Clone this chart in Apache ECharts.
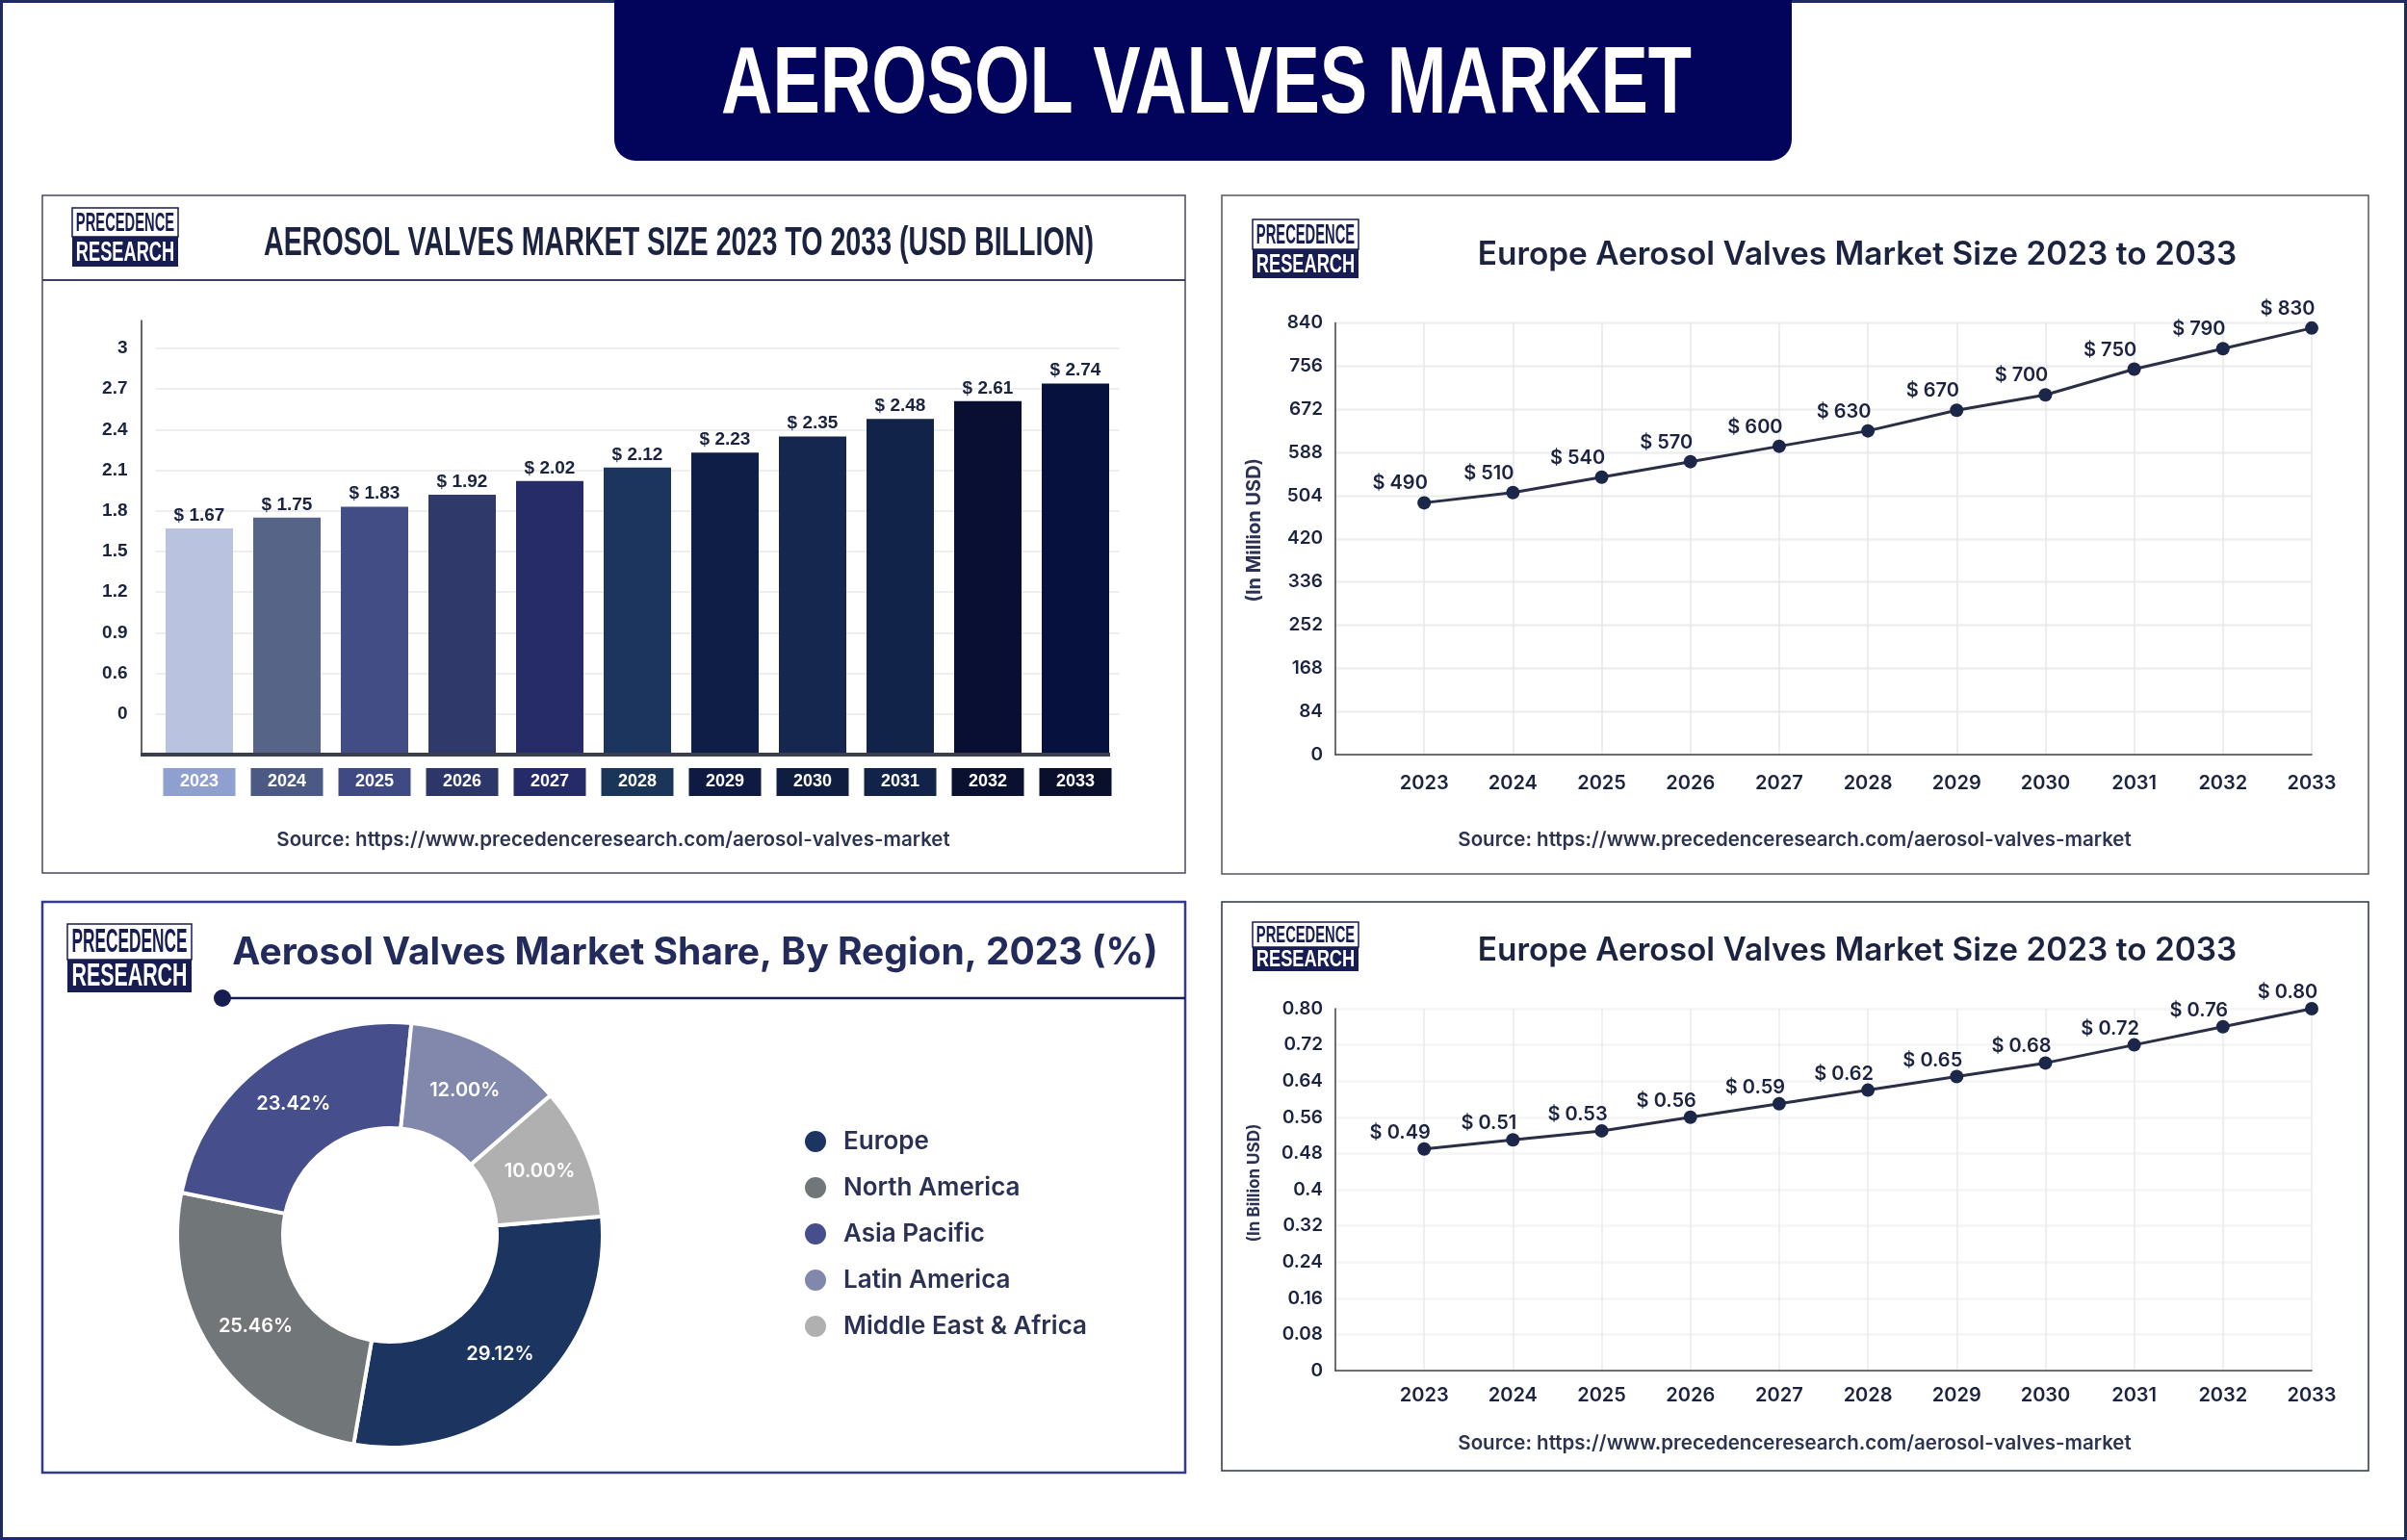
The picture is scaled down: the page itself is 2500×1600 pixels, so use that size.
<!DOCTYPE html>
<html>
<head>
<meta charset="utf-8">
<style>html,body{margin:0;padding:0;background:#fff}#c{width:2500px;height:1600px}</style>
<script src="https://cdn.jsdelivr.net/npm/echarts@6/dist/echarts.min.js"></script>
</head>
<body>
<div id="c"></div>
<script>
const years = [2023,2024,2025,2026,2027,2028,2029,2030,2031,2032,2033];
const marketSize = [1.67,1.75,1.83,1.92,2.02,2.12,2.23,2.35,2.48,2.61,2.74];
const barYTicks = ['','0','0.6','0.9','1.2','1.5','1.8','2.1','2.4','2.7','3',''];
const barColors = ['#b9c2de','#566487','#434d85','#2f3a6b','#262c68','#1b355f','#0f1e47','#15274e','#12234a','#080f33','#06113e'];
const boxColors = ['#8f9fd0','#4a5a85','#3f4a85','#2c3668','#252b68','#1b3558','#0f1a42','#0f1e40','#12234a','#0a1030','#0a0f2c'];
const europeMillion = [490,510,540,570,600,630,670,700,750,790,830];
const europeBillion = [0.49,0.51,0.53,0.56,0.59,0.62,0.65,0.68,0.72,0.76,0.80];
const billionTicks = ['0','0.08','0.16','0.24','0.32','0.4','0.48','0.56','0.64','0.72','0.80'];
const regions = ['Europe','North America','Asia Pacific','Latin America','Middle East & Africa'];
const regionShare = [29.12,25.46,23.42,12.00,10.00];
const regionColors = ['#1b3460','#717779','#464f8b','#8288ab','#b0b0b0'];

const NARROW = '"Liberation Sans",Arial,sans-serif';
const SANS = 'Inter,"Noto Sans",sans-serif';
const INK = '#1b2340';
const NAVY = '#171d52';
const SOURCE = 'Source: https://www.precedenceresearch.com/aerosol-valves-market';
const measure = document.createElement('canvas').getContext('2d');

function condensed(text,cx,cy,font,targetWidth,fill,z){
  measure.font = font;
  const s = targetWidth / measure.measureText(text).width;
  return {type:'text',z:z,x:cx,y:cy,scaleX:s,style:{text:text,align:'center',verticalAlign:'middle',fill:fill,font:font}};
}
function panel(x,y,w,h,color,lw){
  return {type:'rect',z:0,shape:{x:x,y:y,width:w,height:h},style:{fill:'#fff',stroke:color,lineWidth:lw}};
}
function logo(x,y,w,h,split){
  const f1 = 'bold '+(split*0.95)+'px '+NARROW, f2 = 'bold '+((h-split)*0.95)+'px '+NARROW;
  return [
    {type:'rect',z:1,shape:{x:x,y:y,width:w,height:split},style:{fill:'#fff',stroke:NAVY,lineWidth:1.5}},
    {type:'rect',z:1,shape:{x:x,y:y+split,width:w,height:h-split},style:{fill:NAVY}},
    condensed('PRECEDENCE',x+w/2,y+split/2+1,f1,w*0.93,NAVY,2),
    condensed('RESEARCH',x+w/2,y+split+(h-split)/2+1,f2,w*0.93,'#fff',2)
  ];
}
function ttl(text,x,y,size,font,weight,color){
  return {text:text,left:x,top:y,textAlign:'center',textVerticalAlign:'middle',padding:0,
    textStyle:{fontFamily:font,fontSize:size,fontWeight:weight,color:color}};
}
function lineSeries(data,xi,ticks,dist){
  return {type:'line',xAxisIndex:xi,yAxisIndex:xi,data:data.map((v,i)=>[years[i],v]),
    symbol:'circle',symbolSize:14,lineStyle:{color:'#2a2f45',width:3},itemStyle:{color:'#1c2648'},
    label:{show:true,position:'top',distance:dist,offset:[-25,0],color:INK,fontFamily:SANS,fontWeight:600,fontSize:20,
      formatter:p=>'$ '+ticks(p.value[1])}};
}
const yearLabel = {color:INK,fontFamily:SANS,fontWeight:600,fontSize:20,formatter:v=>v===2022?'':String(v)};
const rich = {};
years.forEach((y,i)=>{rich['y'+y]={backgroundColor:boxColors[i],color:'#fff',width:75,height:29,lineHeight:29,align:'center',fontFamily:NARROW,fontWeight:'bold',fontSize:18};});

const chart = echarts.init(document.getElementById('c'));
chart.setOption({
  backgroundColor:'#fff',
  animation:false,
  title:[
    ttl('Europe Aerosol Valves Market Size 2023 to 2033',1929,265,33.4,SANS,600,INK),
    ttl('Aerosol Valves Market Share, By Region, 2023 (%)',722,990,39,SANS,700,'#222b5c'),
    ttl('Europe Aerosol Valves Market Size 2023 to 2033',1929,988,33.4,SANS,600,INK),
    ttl(SOURCE,637,873,20.5,SANS,600,'#2b3350'),
    ttl(SOURCE,1864,873,20.5,SANS,600,'#2b3350'),
    ttl(SOURCE,1864,1500,20.5,SANS,600,'#2b3350')
  ],
  grid:[
    {left:161.5,top:333,width:1001,height:451},
    {left:1387,top:335.5,width:1014,height:448.5},
    {left:1387,top:1048,width:1014,height:376}
  ],
  xAxis:[
    {gridIndex:0,type:'category',data:years,axisLine:{show:false},axisTick:{show:false},
      axisLabel:{margin:14,interval:0,formatter:v=>'{y'+v+'|'+v+'}',rich:rich}},
    {gridIndex:1,type:'value',min:2022,max:2033,interval:1,axisLine:{show:true,lineStyle:{color:'#444',width:1.5}},axisTick:{show:false},
      axisLabel:Object.assign({margin:20},yearLabel),splitLine:{show:true,lineStyle:{color:'#e4e7ec',width:1.5}}},
    {gridIndex:2,type:'value',min:2022,max:2033,interval:1,axisLine:{show:true,lineStyle:{color:'#444',width:1.5}},axisTick:{show:false},
      axisLabel:Object.assign({margin:16},yearLabel),splitLine:{show:true,lineStyle:{color:'#e8eaef',width:1.5}}}
  ],
  yAxis:[
    {gridIndex:0,type:'value',min:0,max:3.206,interval:0.3,offset:15,
      axisLine:{show:true,lineStyle:{color:'#333',width:1.5}},axisTick:{show:false},
      axisLabel:{margin:14,showMaxLabel:false,color:INK,fontFamily:NARROW,fontWeight:'bold',fontSize:19,formatter:(v,i)=>barYTicks[i]||''},
      splitLine:{show:true,showMinLine:false,showMaxLine:false,lineStyle:{color:'#eeeeee',width:2}}},
    {gridIndex:1,type:'value',min:0,max:840,interval:84,name:'(In Million USD)',nameLocation:'middle',nameGap:74,nameRotate:90,
      nameTextStyle:{color:'#2a3154',fontFamily:SANS,fontWeight:700,fontSize:20,padding:[0,0,0,18]},
      axisLine:{show:true,lineStyle:{color:'#444',width:1.5}},axisTick:{show:false},
      axisLabel:{margin:13,color:INK,fontFamily:SANS,fontWeight:600,fontSize:19},
      splitLine:{show:true,lineStyle:{color:'#efefef',width:2.5}}},
    {gridIndex:2,type:'value',min:0,max:0.8,interval:0.08,name:'(In Billion USD)',nameLocation:'middle',nameGap:76,nameRotate:90,
      nameTextStyle:{color:'#2a3154',fontFamily:SANS,fontWeight:700,fontSize:17,padding:[0,0,0,14]},
      axisLine:{show:true,lineStyle:{color:'#444',width:1.5}},axisTick:{show:false},
      axisLabel:{margin:13,color:INK,fontFamily:SANS,fontWeight:600,fontSize:19,formatter:(v,i)=>billionTicks[i]},
      splitLine:{show:true,lineStyle:{color:'#f5f5f5',width:2.5}}}
  ],
  legend:{orient:'vertical',left:829,top:1168,itemWidth:24,itemHeight:24,itemGap:22,icon:'circle',data:regions,
    textStyle:{color:'#2a3154',fontFamily:SANS,fontWeight:600,fontSize:26,padding:[0,0,0,12]}},
  series:[
    {type:'bar',xAxisIndex:0,yAxisIndex:0,barWidth:70,
      data:marketSize.map((v,i)=>({value:v,itemStyle:{color:barColors[i]}})),
      label:{show:true,position:'top',distance:4,color:INK,fontFamily:NARROW,fontWeight:'bold',fontSize:19,formatter:p=>'$ '+p.value.toFixed(2)}},
    lineSeries(europeMillion,1,v=>String(v),3),
    lineSeries(europeBillion,2,v=>v.toFixed(2),0),
    {type:'pie',center:[405,1283],radius:[111,221],startAngle:5,clockwise:true,
      data:regions.map((n,i)=>({name:n,value:regionShare[i],itemStyle:{color:regionColors[i]}})),
      itemStyle:{borderColor:'#fff',borderWidth:4},
      label:{show:true,position:'inside',color:'#fff',fontFamily:SANS,fontWeight:600,fontSize:20,formatter:p=>p.value.toFixed(2)+'%'},
      labelLine:{show:false}}
  ],
  graphic:{elements:[
    {type:'rect',z:0,shape:{x:1.5,y:1.5,width:2497,height:1597},style:{fill:'#fff',stroke:'#1d2a66',lineWidth:3}},
    panel(44,203,1187,704,'#4a4a5a',1.5),
    panel(1269,203,1191,705,'#55555f',1.5),
    panel(44,937,1187,593,'#343a8a',2.5),
    panel(1269,937,1191,591,'#2d3440',1.5),
    {type:'rect',z:1,shape:{x:638,y:-20,width:1223,height:187,r:[0,0,22,22]},style:{fill:'#02035a'}},
    condensed('AEROSOL VALVES MARKET',1253,90,'bold 98px '+NARROW,1008,'#ffffff',2),
    condensed('AEROSOL VALVES MARKET SIZE 2023 TO 2033 (USD BILLION)',705,253,'bold 42px '+NARROW,862,INK,2),
    {type:'line',z:1,shape:{x1:44,y1:291,x2:1231,y2:291},style:{stroke:'#3b4060',lineWidth:2}},
    {type:'line',z:1,shape:{x1:231,y1:1037,x2:1231,y2:1037},style:{stroke:NAVY,lineWidth:2.5}},
    {type:'circle',z:1,shape:{cx:231,cy:1037,r:9},style:{fill:NAVY}},
    {type:'rect',z:3,shape:{x:146,y:782,width:1007,height:4},style:{fill:'#3a3f4a'}}
  ].concat(logo(75,216,110,61,30),logo(1301,228,110,61,31),logo(70,960,129,71,37),logo(1301,958,110,51,26))}
});
</script>
</body>
</html>
